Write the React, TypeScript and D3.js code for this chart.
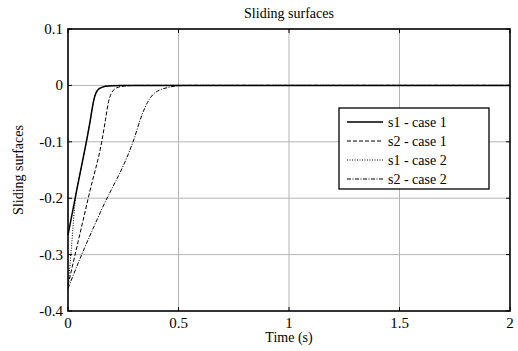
import React, { useRef, useEffect } from 'react';
import * as d3 from 'd3';

type Pt = [number, number];

// s1 - case 1 (solid)
const s1case1: Pt[] = [
  [0, -0.265], [0.05, -0.165], [0.086, -0.094], [0.1, -0.064], [0.11, -0.04], [0.118, -0.024],
  [0.126, -0.014], [0.135, -0.008], [0.15, -0.004], [0.17, -0.0015], [0.2, -0.0004], [0.25, 0], [2, 0],
];
// s2 - case 1 (dashed)
const s2case1: Pt[] = [
  [0, -0.354], [0.05, -0.27], [0.1, -0.186], [0.154, -0.097], [0.17, -0.06],
  [0.184, -0.028], [0.195, -0.015], [0.213, -0.006], [0.24, -0.002], [0.275, -0.0005], [0.31, 0], [2, 0],
];
// s1 - case 2 (dotted)
const s1case2: Pt[] = [
  [0, -0.36], [0.015, -0.29], [0.036, -0.192], [0.05, -0.165], [0.086, -0.094], [0.1, -0.064],
  [0.11, -0.04], [0.118, -0.024], [0.126, -0.014], [0.135, -0.008], [0.15, -0.004], [0.17, -0.0015],
  [0.2, -0.0004], [0.25, 0], [2, 0],
];
// s2 - case 2 (dash-dot)
const s2case2: Pt[] = [
  [0, -0.36], [0.062, -0.3], [0.15, -0.222], [0.297, -0.097], [0.335, -0.052],
  [0.36, -0.03], [0.385, -0.016], [0.416, -0.008], [0.45, -0.004], [0.49, -0.001], [0.55, 0], [2, 0],
];

const xTicks = [0, 0.5, 1, 1.5, 2];
const yTicks = [0.1, 0, -0.1, -0.2, -0.3, -0.4];

const seriesNames = ['s1 - case 1', 's2 - case 1', 's1 - case 2', 's2 - case 2'];
const seriesData = [s1case1, s2case1, s1case2, s2case2];
const seriesDash = ['none', '4,2', '1,1.5', '4,1.5,1,1.5'];
const seriesWidth = [1.5, 1, 1, 1];

function App() {
  const svgRef = useRef<SVGSVGElement>(null);

  useEffect(() => {
    const svg = d3.select(svgRef.current);
    svg.selectAll('*').remove();
    const font = "'Liberation Serif', 'Times New Roman', Times, serif";

    const margin = { top: 29, right: 8, bottom: 40, left: 68 };
    const width = 518 - margin.left - margin.right;
    const height = 351 - margin.top - margin.bottom;

    const g = svg.append('g').attr('transform', `translate(${margin.left},${margin.top})`);

    const x = d3.scaleLinear().domain([0, 2]).range([0, width]);
    const y = d3.scaleLinear().domain([-0.4, 0.1]).range([height, 0]);

    // grid
    g.selectAll('.gx')
      .data(xTicks.slice(1, -1))
      .enter()
      .append('line')
      .attr('x1', d => x(d)).attr('x2', d => x(d))
      .attr('y1', 0).attr('y2', height)
      .attr('stroke', '#b4b4b4').attr('stroke-width', 1);
    g.selectAll('.gy')
      .data(yTicks.slice(1, -1))
      .enter()
      .append('line')
      .attr('y1', d => y(d)).attr('y2', d => y(d))
      .attr('x1', 0).attr('x2', width)
      .attr('stroke', '#b4b4b4').attr('stroke-width', 1);

    // curves
    const line = d3
      .line<Pt>()
      .x(d => x(d[0]))
      .y(d => y(d[1]))
      .curve(d3.curveMonotoneX);

    seriesData.forEach((data, i) => {
      g.append('path')
        .datum(data)
        .attr('fill', 'none')
        .attr('stroke', 'black')
        .attr('stroke-width', seriesWidth[i])
        .attr('stroke-dasharray', seriesDash[i])
        .attr('d', line);
    });

    // axis box
    g.append('rect')
      .attr('x', 0).attr('y', 0)
      .attr('width', width).attr('height', height)
      .attr('fill', 'none').attr('stroke', 'black').attr('stroke-width', 1.6);

    // ticks
    xTicks.forEach(t => {
      g.append('line').attr('x1', x(t)).attr('x2', x(t)).attr('y1', height).attr('y2', height - 4).attr('stroke', 'black');
      g.append('line').attr('x1', x(t)).attr('x2', x(t)).attr('y1', 0).attr('y2', 4).attr('stroke', 'black');
      g.append('text')
        .attr('x', x(t)).attr('y', height + 17)
        .attr('text-anchor', 'middle')
        .attr('font-family', font).attr('font-size', 15)
        .text(String(t));
    });
    yTicks.forEach(t => {
      g.append('line').attr('x1', 0).attr('x2', 4).attr('y1', y(t)).attr('y2', y(t)).attr('stroke', 'black');
      g.append('line').attr('x1', width).attr('x2', width - 4).attr('y1', y(t)).attr('y2', y(t)).attr('stroke', 'black');
      g.append('text')
        .attr('x', -5).attr('y', y(t) + 5)
        .attr('text-anchor', 'end')
        .attr('font-family', font).attr('font-size', 15)
        .text(String(t));
    });

    // titles
    svg.append('text')
      .attr('x', margin.left + width / 2).attr('y', 18)
      .attr('text-anchor', 'middle')
      .attr('font-family', font).attr('font-size', 14)
      .text('Sliding surfaces');
    svg.append('text')
      .attr('x', margin.left + width / 2).attr('y', 342)
      .attr('text-anchor', 'middle')
      .attr('font-family', font).attr('font-size', 14)
      .text('Time (s)');
    svg.append('text')
      .attr('transform', `translate(23,${margin.top + height / 2}) rotate(-90)`)
      .attr('text-anchor', 'middle')
      .attr('font-family', font).attr('font-size', 14)
      .text('Sliding surfaces');

    // legend
    const lg = svg.append('g').attr('transform', 'translate(339,108)');
    lg.append('rect')
      .attr('width', 150).attr('height', 81)
      .attr('fill', 'white').attr('stroke', 'black').attr('stroke-width', 1.3);
    seriesNames.forEach((name, i) => {
      const yy = 14 + i * 19;
      lg.append('line')
        .attr('x1', 8).attr('x2', 44).attr('y1', yy).attr('y2', yy)
        .attr('stroke', 'black')
        .attr('stroke-width', seriesWidth[i])
        .attr('stroke-dasharray', seriesDash[i]);
      lg.append('text')
        .attr('x', 49).attr('y', yy + 5)
        .attr('font-family', font).attr('font-size', 14)
        .text(name);
    });
  }, []);

  return (
    <svg ref={svgRef} width={518} height={351} style={{ position: 'absolute', left: 0, top: 0, background: 'white' }}></svg>
  );
}

export default App;
